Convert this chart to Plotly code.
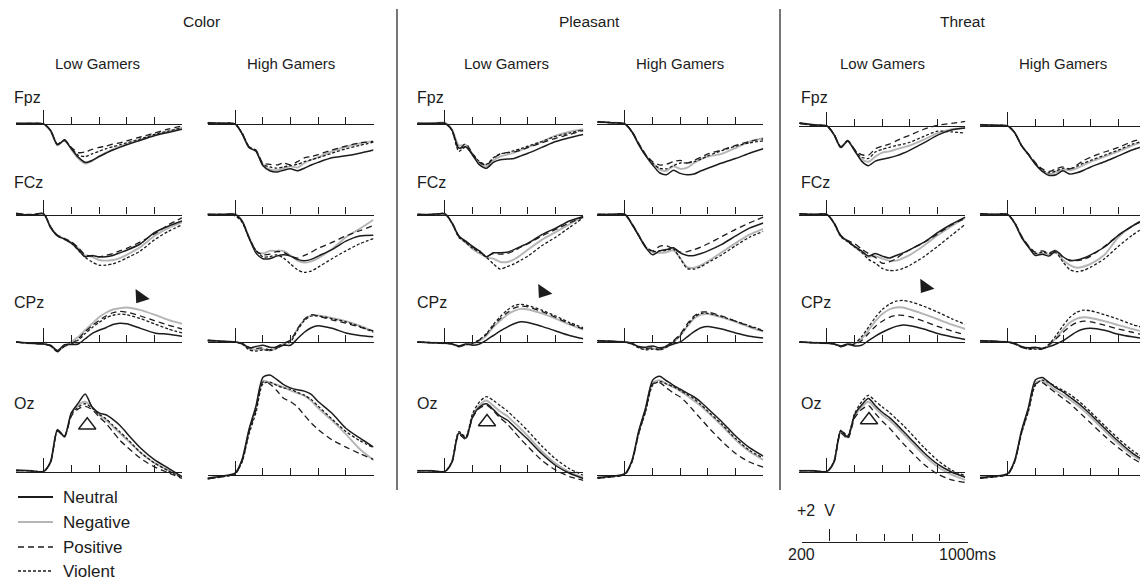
import plotly.graph_objects as go

# Time base of every waveform (ms relative to picture onset)
TIMES = [-200, -100, 0, 50, 100, 150, 200, 250, 300, 350, 400, 450, 500, 550, 600, 700, 800, 900, 1000]

# ---------------- Color ----------------
COLOR_LOW_FPZ_NEU = [0.1, 0.1, 0.0, -1.0, -3.2, -2.5, -3.8, -5.1, -5.9, -5.6, -5.0, -4.5, -4.0, -3.6, -3.2, -2.5, -1.8, -1.3, -0.8]
COLOR_LOW_FPZ_NEG = [0.1, 0.0, 0.0, -1.1, -3.3, -2.5, -3.9, -5.3, -6.1, -5.7, -5.0, -4.4, -3.9, -3.5, -3.1, -2.4, -1.7, -1.1, -0.6]
COLOR_LOW_FPZ_POS = [0.0, 0.1, 0.0, -1.0, -3.1, -2.4, -3.6, -4.4, -4.3, -3.9, -3.6, -3.4, -3.1, -2.9, -2.6, -2.0, -1.4, -0.8, -0.3]
COLOR_LOW_FPZ_VIO = [0.0, 0.0, 0.0, -1.0, -3.2, -2.5, -3.7, -4.8, -5.0, -4.6, -4.2, -3.8, -3.5, -3.2, -2.9, -2.3, -1.6, -1.1, -0.6]

COLOR_HIGH_FPZ_NEU = [0.2, 0.1, 0.0, -1.5, -3.6, -4.2, -6.4, -7.2, -7.4, -7.1, -6.9, -7.2, -6.8, -6.3, -5.9, -5.2, -4.9, -4.5, -4.0]
COLOR_HIGH_FPZ_NEG = [0.2, 0.1, 0.0, -1.5, -3.6, -4.1, -6.2, -7.0, -7.1, -6.8, -6.5, -6.7, -6.0, -5.5, -5.1, -4.2, -3.5, -3.0, -2.6]
COLOR_HIGH_FPZ_POS = [0.1, 0.1, 0.0, -1.4, -3.5, -4.0, -6.0, -6.2, -6.3, -6.0, -6.3, -5.8, -5.2, -5.0, -4.7, -4.0, -3.4, -2.9, -2.7]
COLOR_HIGH_FPZ_VIO = [0.1, 0.1, 0.0, -1.4, -3.5, -4.1, -6.2, -6.6, -6.8, -6.6, -6.4, -6.2, -5.8, -5.5, -5.2, -4.5, -3.8, -3.3, -2.8]

COLOR_LOW_FCZ_NEU = [0.2, -0.1, 0.1, -2.0, -3.3, -3.8, -4.4, -5.4, -6.5, -6.3, -6.5, -6.5, -6.3, -5.9, -5.5, -4.5, -2.8, -1.8, -1.0]
COLOR_LOW_FCZ_NEG = [0.1, -0.1, 0.1, -1.9, -3.2, -3.7, -4.3, -5.2, -6.3, -6.5, -7.0, -7.1, -7.0, -6.7, -6.2, -5.0, -3.3, -2.1, -1.2]
COLOR_LOW_FCZ_POS = [0.1, 0.0, 0.1, -1.9, -3.2, -3.7, -4.2, -5.1, -6.2, -6.4, -6.5, -6.3, -6.0, -5.6, -5.2, -4.2, -3.0, -1.6, -0.5]
COLOR_LOW_FCZ_VIO = [0.1, -0.1, 0.1, -2.0, -3.3, -3.8, -4.4, -5.5, -6.6, -7.3, -7.8, -7.8, -7.6, -7.2, -6.7, -5.6, -3.9, -2.6, -1.6]

COLOR_HIGH_FCZ_NEU = [0.0, 0.0, 0.0, -1.0, -3.6, -5.9, -6.8, -6.8, -6.4, -6.2, -6.4, -6.9, -7.1, -6.9, -6.4, -5.4, -4.1, -3.3, -3.2]
COLOR_HIGH_FCZ_NEG = [0.0, 0.0, 0.1, -1.0, -3.5, -5.6, -6.0, -5.6, -5.6, -5.6, -6.3, -7.1, -7.4, -7.2, -6.7, -5.3, -3.5, -2.2, -0.8]
COLOR_HIGH_FCZ_POS = [0.0, 0.0, 0.0, -1.0, -3.5, -5.6, -6.2, -6.1, -5.7, -5.8, -6.4, -6.7, -6.3, -5.8, -5.2, -4.3, -3.3, -2.5, -1.7]
COLOR_HIGH_FCZ_VIO = [0.0, 0.0, -0.2, -1.2, -3.6, -5.5, -6.5, -6.5, -6.2, -6.7, -7.6, -8.5, -8.9, -8.7, -8.1, -6.8, -5.6, -4.5, -3.7]

COLOR_LOW_CPZ_NEU = [0.0, -0.2, -0.3, -0.5, -1.3, -0.4, -0.4, -0.3, 0.5, 1.3, 1.8, 2.2, 2.7, 2.9, 2.8, 2.1, 1.4, 1.2, 0.9]
COLOR_LOW_CPZ_NEG = [0.0, -0.2, -0.3, -0.6, -1.4, -0.6, 0.0, 0.8, 1.8, 2.8, 3.8, 4.5, 5.0, 5.2, 5.3, 4.9, 4.2, 3.4, 2.8]
COLOR_LOW_CPZ_POS = [0.0, -0.2, -0.3, -0.6, -1.5, -0.7, -0.3, 0.5, 1.6, 2.5, 3.3, 4.0, 4.5, 4.7, 4.6, 4.0, 3.3, 2.6, 2.0]
COLOR_LOW_CPZ_VIO = [0.0, -0.2, -0.3, -0.6, -1.4, -0.6, -0.2, 0.3, 1.3, 2.2, 3.0, 3.7, 4.1, 4.3, 4.2, 3.6, 2.8, 2.0, 1.4]

COLOR_HIGH_CPZ_NEU = [0.3, 0.1, 0.0, -0.2, -0.9, -0.7, -0.5, -0.8, -0.8, -0.5, -0.5, 0.5, 1.5, 2.2, 2.5, 2.1, 1.4, 1.0, 0.8]
COLOR_HIGH_CPZ_NEG = [0.2, 0.1, 0.0, -0.3, -1.0, -1.2, -1.1, -1.3, -1.0, -0.2, 0.2, 2.0, 3.4, 4.1, 4.1, 3.7, 3.2, 2.5, 1.6]
COLOR_HIGH_CPZ_POS = [0.2, 0.1, 0.0, -0.3, -0.8, -1.0, -0.9, -1.2, -0.7, -0.2, 0.3, 2.0, 3.5, 4.2, 4.0, 3.4, 2.9, 2.3, 1.7]
COLOR_HIGH_CPZ_VIO = [0.2, 0.1, 0.0, -0.3, -1.2, -1.4, -1.2, -1.3, -1.0, -0.4, 0.0, 1.8, 3.3, 4.0, 4.0, 3.6, 3.1, 2.4, 1.5]

COLOR_LOW_OZ_NEU = [0.3, 0.2, 0.1, 1.6, 6.5, 5.5, 9.1, 10.6, 12.0, 10.0, 9.1, 8.8, 8.1, 7.2, 6.0, 3.7, 1.9, 0.6, -0.7]
COLOR_LOW_OZ_NEG = [0.2, 0.2, 0.1, 1.5, 6.5, 5.4, 9.0, 10.3, 10.8, 10.0, 8.8, 8.0, 7.0, 6.0, 5.0, 3.0, 1.4, 0.3, -0.8]
COLOR_LOW_OZ_POS = [0.2, 0.2, 0.1, 1.5, 6.3, 5.4, 8.6, 9.7, 10.1, 9.6, 8.5, 7.5, 6.2, 4.9, 3.9, 2.1, 0.8, -0.1, -1.0]
COLOR_LOW_OZ_VIO = [0.2, 0.2, 0.1, 1.5, 6.4, 5.5, 8.8, 10.0, 10.5, 9.8, 8.9, 8.2, 7.2, 6.2, 5.2, 3.0, 1.4, 0.2, -0.9]

COLOR_HIGH_OZ_NEU = [-0.5, -0.2, 0.3, 2.4, 7.0, 10.6, 15.0, 15.4, 14.7, 13.9, 13.4, 13.1, 12.9, 12.4, 11.3, 9.5, 7.2, 5.7, 4.3]
COLOR_HIGH_OZ_NEG = [-0.5, -0.2, 0.3, 2.3, 6.8, 10.3, 14.5, 14.2, 13.9, 13.5, 13.0, 12.6, 12.2, 11.4, 10.3, 8.4, 6.3, 4.0, 2.3]
COLOR_HIGH_OZ_POS = [-0.6, -0.3, 0.2, 2.1, 6.6, 10.0, 14.3, 14.0, 13.0, 11.8, 11.3, 10.5, 9.2, 8.0, 7.0, 5.4, 4.3, 3.3, 2.4]
COLOR_HIGH_OZ_VIO = [-0.6, -0.3, 0.2, 2.0, 6.3, 9.6, 14.0, 14.3, 13.8, 13.4, 13.2, 12.7, 12.3, 11.6, 10.6, 8.6, 6.7, 5.3, 4.2]

# ---------------- Pleasant ----------------
PLEAS_LOW_FPZ_NEU = [0.1, 0.1, 0.1, -0.9, -3.7, -3.5, -4.8, -6.3, -6.8, -5.9, -5.5, -5.4, -5.3, -4.9, -4.5, -3.6, -2.7, -2.1, -1.6]
PLEAS_LOW_FPZ_NEG = [0.0, 0.1, 0.2, -0.8, -3.3, -3.2, -4.7, -6.1, -6.5, -5.6, -5.0, -4.7, -4.4, -4.0, -3.6, -2.7, -1.8, -1.2, -0.8]
PLEAS_LOW_FPZ_POS = [0.1, 0.0, 0.1, -0.9, -3.9, -3.0, -4.6, -5.9, -6.3, -5.3, -4.6, -4.4, -4.3, -4.0, -3.6, -2.9, -2.2, -1.6, -1.0]
PLEAS_LOW_FPZ_VIO = [0.1, 0.0, 0.1, -1.0, -4.2, -3.5, -4.6, -5.8, -6.2, -5.2, -4.6, -4.4, -4.1, -3.8, -3.4, -2.7, -1.9, -1.4, -0.9]

PLEAS_HIGH_FPZ_NEU = [0.35, 0.2, 0.0, -1.2, -3.2, -4.9, -6.3, -7.5, -7.8, -7.1, -7.6, -7.8, -7.7, -7.2, -6.8, -6.0, -5.3, -4.5, -3.8]
PLEAS_HIGH_FPZ_NEG = [0.3, 0.2, 0.0, -1.2, -3.1, -4.8, -6.0, -7.0, -7.2, -6.5, -6.9, -6.7, -6.0, -5.4, -5.0, -4.6, -3.7, -2.7, -2.2]
PLEAS_HIGH_FPZ_POS = [0.3, 0.2, 0.0, -1.1, -3.0, -4.7, -5.8, -6.3, -6.2, -5.8, -5.6, -6.0, -5.6, -5.1, -4.6, -4.0, -3.3, -2.7, -2.3]
PLEAS_HIGH_FPZ_VIO = [0.3, 0.2, 0.0, -1.2, -3.1, -4.8, -6.0, -6.8, -6.9, -6.4, -6.0, -6.0, -5.8, -5.4, -4.9, -4.1, -3.4, -2.9, -2.6]

PLEAS_LOW_FCZ_NEU = [0.0, 0.0, 0.1, -1.3, -3.3, -4.1, -4.9, -5.6, -6.5, -5.9, -5.9, -5.8, -5.4, -4.9, -4.4, -3.1, -2.1, -1.0, -0.3]
PLEAS_LOW_FCZ_NEG = [0.0, -0.1, 0.1, -1.2, -3.4, -4.3, -5.3, -6.0, -6.6, -6.8, -7.3, -7.3, -6.9, -6.2, -5.4, -3.9, -2.7, -1.5, -0.3]
PLEAS_LOW_FCZ_POS = [0.0, 0.0, 0.1, -1.2, -3.3, -4.2, -5.0, -5.7, -6.4, -6.0, -6.1, -6.0, -5.6, -5.0, -4.5, -3.3, -2.3, -1.3, -0.4]
PLEAS_LOW_FCZ_VIO = [0.0, 0.0, 0.1, -1.3, -3.5, -4.3, -5.2, -5.8, -6.6, -7.6, -8.4, -8.0, -7.6, -7.0, -6.4, -4.8, -3.5, -2.0, -0.5]

PLEAS_HIGH_FCZ_NEU = [0.0, 0.0, 0.0, -1.5, -3.3, -5.1, -6.2, -5.6, -5.4, -5.1, -5.9, -6.3, -6.3, -6.0, -5.6, -4.6, -3.3, -2.1, -1.3]
PLEAS_HIGH_FCZ_NEG = [0.0, 0.0, 0.0, -1.4, -3.2, -5.0, -5.8, -5.9, -5.8, -5.5, -6.7, -8.1, -8.2, -7.8, -7.2, -5.8, -4.4, -3.1, -2.2]
PLEAS_HIGH_FCZ_POS = [0.0, 0.0, 0.0, -1.4, -3.2, -4.9, -5.6, -4.9, -4.8, -5.3, -5.8, -5.7, -5.4, -5.0, -4.5, -3.4, -2.3, -1.3, -0.4]
PLEAS_HIGH_FCZ_VIO = [0.0, 0.0, 0.0, -1.5, -3.3, -5.0, -5.7, -5.6, -5.5, -5.3, -6.8, -8.3, -8.4, -8.0, -7.4, -6.2, -4.8, -3.5, -2.6]

PLEAS_LOW_CPZ_NEU = [0.0, -0.1, -0.2, -0.3, -0.6, -0.3, -0.5, -0.3, 0.3, 1.0, 1.7, 2.3, 2.8, 3.1, 3.0, 2.4, 1.7, 1.0, 0.5]
PLEAS_LOW_CPZ_NEG = [0.0, -0.1, -0.2, -0.3, -0.7, -0.4, -0.3, 0.2, 1.0, 2.3, 3.3, 4.2, 4.8, 5.1, 5.0, 4.4, 3.6, 2.7, 1.9]
PLEAS_LOW_CPZ_POS = [0.0, -0.1, -0.2, -0.3, -0.7, -0.4, -0.3, 0.3, 1.2, 2.5, 3.6, 4.5, 5.2, 5.5, 5.4, 4.7, 3.8, 2.8, 2.0]
PLEAS_LOW_CPZ_VIO = [0.0, -0.1, -0.2, -0.3, -0.7, -0.4, -0.2, 0.4, 1.3, 2.7, 3.9, 4.9, 5.6, 5.8, 5.6, 4.9, 4.0, 3.0, 2.2]

PLEAS_HIGH_CPZ_NEU = [0.2, 0.1, 0.0, -0.2, -0.7, -0.8, -0.6, -0.9, -0.7, -0.3, 0.0, 0.8, 1.6, 2.2, 2.4, 2.0, 1.4, 0.9, 0.6]
PLEAS_HIGH_CPZ_NEG = [0.2, 0.1, 0.0, -0.3, -0.8, -1.1, -1.0, -1.2, -0.8, 0.0, 1.0, 2.4, 3.6, 4.2, 4.3, 3.8, 3.1, 2.3, 1.6]
PLEAS_HIGH_CPZ_POS = [0.2, 0.1, 0.0, -0.3, -0.8, -1.0, -0.9, -1.1, -0.6, 0.2, 1.2, 2.8, 4.0, 4.6, 4.6, 4.0, 3.2, 2.4, 1.7]
PLEAS_HIGH_CPZ_VIO = [0.2, 0.1, 0.0, -0.3, -0.9, -1.2, -1.1, -1.2, -0.8, 0.0, 1.0, 2.5, 3.8, 4.4, 4.4, 3.9, 3.2, 2.5, 1.8]

PLEAS_LOW_OZ_NEU = [0.2, 0.2, 0.1, 1.5, 6.0, 5.2, 8.5, 10.0, 10.5, 9.6, 8.6, 8.0, 7.0, 6.0, 5.0, 2.8, 1.0, -0.2, -1.0]
PLEAS_LOW_OZ_NEG = [0.2, 0.2, 0.1, 1.5, 6.0, 5.2, 8.7, 10.3, 11.0, 10.2, 9.3, 8.6, 7.6, 6.6, 5.5, 3.2, 1.3, 0.0, -0.8]
PLEAS_LOW_OZ_POS = [0.2, 0.2, 0.1, 1.4, 5.8, 5.0, 8.4, 9.8, 10.3, 9.4, 8.3, 7.4, 6.2, 5.0, 3.9, 1.8, 0.3, -0.7, -1.3]
PLEAS_LOW_OZ_VIO = [0.2, 0.2, 0.1, 1.6, 6.2, 5.4, 9.0, 10.8, 11.6, 11.0, 10.2, 9.4, 8.4, 7.4, 6.3, 4.0, 2.0, 0.5, -0.5]

PLEAS_HIGH_OZ_NEU = [-0.4, -0.2, 0.2, 2.2, 6.8, 10.4, 14.6, 15.2, 14.5, 13.8, 13.2, 12.6, 12.0, 11.2, 10.2, 8.2, 6.0, 4.2, 2.9]
PLEAS_HIGH_OZ_NEG = [-0.4, -0.2, 0.2, 2.1, 6.6, 10.2, 14.2, 14.6, 14.0, 13.5, 12.9, 12.2, 11.4, 10.6, 9.6, 7.6, 5.4, 3.6, 2.3]
PLEAS_HIGH_OZ_POS = [-0.5, -0.3, 0.1, 2.0, 6.5, 10.0, 14.0, 14.2, 13.4, 12.6, 12.0, 11.0, 9.8, 8.6, 7.4, 5.2, 3.3, 2.0, 1.2]
PLEAS_HIGH_OZ_VIO = [-0.5, -0.3, 0.1, 2.0, 6.4, 9.8, 13.8, 14.4, 14.0, 13.6, 13.0, 12.4, 11.7, 10.8, 9.8, 7.8, 5.6, 3.8, 2.6]

# ---------------- Threat ----------------
THREAT_LOW_FPZ_NEU = [0.5, 0.2, 0.0, -1.3, -3.3, -2.3, -3.8, -5.4, -6.1, -5.4, -5.1, -4.9, -4.6, -4.2, -3.7, -2.6, -1.4, -0.6, -0.3]
THREAT_LOW_FPZ_NEG = [0.4, 0.2, 0.0, -1.3, -3.2, -2.3, -3.8, -5.1, -5.5, -4.7, -4.1, -3.9, -3.6, -3.3, -3.0, -2.1, -1.1, -0.5, -0.3]
THREAT_LOW_FPZ_POS = [0.4, 0.1, 0.0, -1.2, -3.2, -2.2, -3.6, -4.4, -4.5, -3.5, -3.1, -2.8, -2.3, -1.8, -1.4, -0.5, 0.1, 0.4, 0.7]
THREAT_LOW_FPZ_VIO = [0.4, 0.1, 0.0, -1.3, -3.3, -2.3, -3.7, -4.8, -5.0, -4.0, -3.6, -3.3, -3.0, -2.8, -2.5, -1.6, -0.8, -0.9, -1.1]

THREAT_HIGH_FPZ_NEU = [0.2, 0.1, 0.0, -1.0, -3.0, -4.4, -5.9, -7.0, -7.6, -7.5, -6.9, -7.4, -7.2, -6.8, -6.3, -5.5, -4.6, -3.7, -3.0]
THREAT_HIGH_FPZ_NEG = [0.2, 0.1, 0.0, -1.0, -3.0, -4.4, -5.8, -6.9, -7.4, -7.1, -6.7, -6.8, -6.5, -6.0, -5.5, -4.7, -3.9, -3.0, -2.3]
THREAT_HIGH_FPZ_POS = [0.2, 0.1, 0.0, -1.0, -3.0, -4.3, -5.6, -6.6, -7.0, -6.6, -6.3, -6.6, -6.0, -5.3, -4.8, -4.0, -3.3, -2.4, -1.8]
THREAT_HIGH_FPZ_VIO = [0.2, 0.1, 0.0, -1.0, -3.0, -4.4, -5.7, -6.8, -7.2, -6.9, -6.5, -6.6, -6.2, -5.7, -5.3, -4.5, -3.7, -2.8, -2.2]

THREAT_LOW_FCZ_NEU = [0.1, 0.0, 0.0, -1.3, -3.3, -4.1, -4.9, -5.6, -6.4, -6.0, -6.4, -6.7, -6.3, -5.9, -5.4, -4.3, -2.8, -1.5, -0.4]
THREAT_LOW_FCZ_NEG = [0.1, 0.0, 0.0, -1.3, -3.3, -4.1, -5.0, -5.8, -6.5, -6.4, -6.8, -7.1, -7.1, -6.7, -6.2, -4.8, -3.2, -1.8, -0.5]
THREAT_LOW_FCZ_POS = [0.1, 0.0, 0.0, -1.2, -3.2, -4.0, -4.5, -5.3, -6.0, -6.6, -7.5, -7.3, -6.8, -6.0, -5.4, -4.3, -3.0, -1.6, -0.6]
THREAT_LOW_FCZ_VIO = [0.1, 0.0, 0.0, -1.3, -3.4, -4.2, -5.0, -5.8, -6.9, -7.5, -8.3, -8.6, -8.6, -8.3, -7.8, -6.5, -4.9, -3.2, -1.5]

THREAT_HIGH_FCZ_NEU = [0.1, 0.0, 0.0, -1.3, -3.5, -5.0, -6.3, -6.1, -6.4, -5.6, -6.5, -7.1, -7.0, -6.7, -6.2, -5.0, -3.2, -1.8, -0.6]
THREAT_HIGH_FCZ_NEG = [0.1, 0.0, 0.0, -1.3, -3.4, -4.9, -6.0, -6.0, -6.2, -5.8, -7.0, -7.8, -8.2, -8.0, -7.6, -6.2, -3.5, -1.8, -0.6]
THREAT_HIGH_FCZ_POS = [0.1, 0.0, 0.0, -1.2, -3.3, -4.8, -5.8, -5.6, -5.9, -5.5, -6.6, -7.0, -7.1, -6.9, -6.4, -4.9, -3.2, -1.8, -0.8]
THREAT_HIGH_FCZ_VIO = [0.1, 0.0, 0.0, -1.3, -3.4, -4.9, -6.0, -5.8, -6.0, -5.9, -7.3, -8.5, -8.8, -8.6, -8.1, -6.8, -4.9, -3.2, -1.8]

THREAT_LOW_CPZ_NEU = [0.0, -0.1, -0.2, -0.3, -0.6, -0.3, -0.6, -0.5, 0.2, 0.9, 1.5, 2.0, 2.4, 2.6, 2.5, 2.0, 1.3, 0.8, 0.4]
THREAT_LOW_CPZ_NEG = [0.0, -0.1, -0.2, -0.3, -0.7, -0.4, -0.3, 0.5, 1.8, 3.2, 4.3, 5.0, 5.3, 5.3, 5.0, 4.3, 3.5, 2.7, 2.0]
THREAT_LOW_CPZ_POS = [0.0, -0.1, -0.2, -0.3, -0.7, -0.4, -0.4, 0.2, 1.3, 2.4, 3.2, 3.8, 4.1, 4.1, 3.9, 3.2, 2.4, 1.7, 1.1]
THREAT_LOW_CPZ_VIO = [0.0, -0.1, -0.2, -0.3, -0.7, -0.4, -0.2, 0.8, 2.3, 3.8, 5.0, 5.8, 6.3, 6.4, 6.2, 5.5, 4.6, 3.6, 2.7]

THREAT_HIGH_CPZ_NEU = [0.2, 0.1, 0.0, -0.2, -0.7, -0.9, -0.8, -1.0, -0.7, -0.3, 0.2, 0.9, 1.6, 2.0, 2.1, 1.8, 1.2, 0.8, 0.5]
THREAT_HIGH_CPZ_NEG = [0.2, 0.1, 0.0, -0.3, -0.8, -1.0, -1.0, -1.1, -0.5, 0.6, 1.9, 3.0, 3.6, 3.8, 3.7, 3.2, 2.6, 2.0, 1.5]
THREAT_HIGH_CPZ_POS = [0.2, 0.1, 0.0, -0.3, -0.8, -1.0, -0.9, -1.0, -0.4, 0.5, 1.5, 2.4, 3.0, 3.2, 3.1, 2.6, 2.0, 1.5, 1.0]
THREAT_HIGH_CPZ_VIO = [0.2, 0.1, 0.0, -0.3, -0.8, -1.1, -1.1, -1.1, -0.3, 1.0, 2.5, 3.8, 4.6, 4.9, 4.8, 4.2, 3.5, 2.7, 2.1]

THREAT_LOW_OZ_NEU = [0.2, 0.2, 0.1, 1.5, 6.3, 5.4, 8.8, 10.3, 11.3, 10.2, 9.2, 8.4, 7.4, 6.3, 5.2, 3.0, 1.2, 0.0, -0.8]
THREAT_LOW_OZ_NEG = [0.2, 0.2, 0.1, 1.5, 6.2, 5.3, 8.6, 10.0, 10.8, 9.8, 8.8, 8.0, 7.0, 5.9, 4.8, 2.6, 0.8, -0.4, -1.2]
THREAT_LOW_OZ_POS = [0.2, 0.2, 0.1, 1.4, 6.0, 5.1, 8.3, 9.6, 10.2, 9.0, 7.8, 6.8, 5.6, 4.4, 3.3, 1.2, -0.3, -1.2, -1.6]
THREAT_LOW_OZ_VIO = [0.2, 0.2, 0.1, 1.6, 6.4, 5.6, 9.0, 10.8, 11.8, 10.9, 10.0, 9.2, 8.2, 7.2, 6.1, 3.8, 1.8, 0.3, -0.6]

THREAT_HIGH_OZ_NEU = [-0.4, -0.2, 0.2, 2.2, 6.8, 10.4, 14.6, 15.0, 14.2, 13.4, 12.8, 12.0, 11.2, 10.3, 9.3, 7.2, 5.2, 3.4, 2.0]
THREAT_HIGH_OZ_NEG = [-0.4, -0.2, 0.2, 2.1, 6.6, 10.2, 14.2, 14.5, 13.8, 13.0, 12.3, 11.6, 10.8, 9.9, 8.9, 6.8, 4.8, 3.1, 1.8]
THREAT_HIGH_OZ_POS = [-0.5, -0.3, 0.1, 2.0, 6.5, 10.0, 14.0, 14.2, 13.4, 12.6, 11.8, 11.0, 10.0, 9.0, 8.0, 6.0, 4.2, 2.6, 1.4]
THREAT_HIGH_OZ_VIO = [-0.5, -0.3, 0.1, 2.0, 6.4, 9.8, 13.8, 14.6, 14.2, 13.6, 13.0, 12.4, 11.6, 10.7, 9.7, 7.6, 5.6, 3.8, 2.4]

CONDITIONS = ["Color", "Pleasant", "Threat"]
GROUPS = ["Low Gamers", "High Gamers"]
CHANNELS = ["Fpz", "FCz", "CPz", "Oz"]
SERIES = ["Neutral", "Negative", "Positive", "Violent"]

# Highlighted effects: filled arrow (CPz late positivity), open triangle (Oz)
ARROW_TIME = [700, 710, 710]
ARROW_UV = [6.9, 7.7, 8.5]
OPEN_TRI_TIME = [315, 304, 304]
OPEN_TRI_UV = [7.2, 7.7, 8.0]

WAVES = {
    ("Color", "Low Gamers", "Fpz"): [COLOR_LOW_FPZ_NEU, COLOR_LOW_FPZ_NEG, COLOR_LOW_FPZ_POS, COLOR_LOW_FPZ_VIO],
    ("Color", "High Gamers", "Fpz"): [COLOR_HIGH_FPZ_NEU, COLOR_HIGH_FPZ_NEG, COLOR_HIGH_FPZ_POS, COLOR_HIGH_FPZ_VIO],
    ("Color", "Low Gamers", "FCz"): [COLOR_LOW_FCZ_NEU, COLOR_LOW_FCZ_NEG, COLOR_LOW_FCZ_POS, COLOR_LOW_FCZ_VIO],
    ("Color", "High Gamers", "FCz"): [COLOR_HIGH_FCZ_NEU, COLOR_HIGH_FCZ_NEG, COLOR_HIGH_FCZ_POS, COLOR_HIGH_FCZ_VIO],
    ("Color", "Low Gamers", "CPz"): [COLOR_LOW_CPZ_NEU, COLOR_LOW_CPZ_NEG, COLOR_LOW_CPZ_POS, COLOR_LOW_CPZ_VIO],
    ("Color", "High Gamers", "CPz"): [COLOR_HIGH_CPZ_NEU, COLOR_HIGH_CPZ_NEG, COLOR_HIGH_CPZ_POS, COLOR_HIGH_CPZ_VIO],
    ("Color", "Low Gamers", "Oz"): [COLOR_LOW_OZ_NEU, COLOR_LOW_OZ_NEG, COLOR_LOW_OZ_POS, COLOR_LOW_OZ_VIO],
    ("Color", "High Gamers", "Oz"): [COLOR_HIGH_OZ_NEU, COLOR_HIGH_OZ_NEG, COLOR_HIGH_OZ_POS, COLOR_HIGH_OZ_VIO],
    ("Pleasant", "Low Gamers", "Fpz"): [PLEAS_LOW_FPZ_NEU, PLEAS_LOW_FPZ_NEG, PLEAS_LOW_FPZ_POS, PLEAS_LOW_FPZ_VIO],
    ("Pleasant", "High Gamers", "Fpz"): [PLEAS_HIGH_FPZ_NEU, PLEAS_HIGH_FPZ_NEG, PLEAS_HIGH_FPZ_POS, PLEAS_HIGH_FPZ_VIO],
    ("Pleasant", "Low Gamers", "FCz"): [PLEAS_LOW_FCZ_NEU, PLEAS_LOW_FCZ_NEG, PLEAS_LOW_FCZ_POS, PLEAS_LOW_FCZ_VIO],
    ("Pleasant", "High Gamers", "FCz"): [PLEAS_HIGH_FCZ_NEU, PLEAS_HIGH_FCZ_NEG, PLEAS_HIGH_FCZ_POS, PLEAS_HIGH_FCZ_VIO],
    ("Pleasant", "Low Gamers", "CPz"): [PLEAS_LOW_CPZ_NEU, PLEAS_LOW_CPZ_NEG, PLEAS_LOW_CPZ_POS, PLEAS_LOW_CPZ_VIO],
    ("Pleasant", "High Gamers", "CPz"): [PLEAS_HIGH_CPZ_NEU, PLEAS_HIGH_CPZ_NEG, PLEAS_HIGH_CPZ_POS, PLEAS_HIGH_CPZ_VIO],
    ("Pleasant", "Low Gamers", "Oz"): [PLEAS_LOW_OZ_NEU, PLEAS_LOW_OZ_NEG, PLEAS_LOW_OZ_POS, PLEAS_LOW_OZ_VIO],
    ("Pleasant", "High Gamers", "Oz"): [PLEAS_HIGH_OZ_NEU, PLEAS_HIGH_OZ_NEG, PLEAS_HIGH_OZ_POS, PLEAS_HIGH_OZ_VIO],
    ("Threat", "Low Gamers", "Fpz"): [THREAT_LOW_FPZ_NEU, THREAT_LOW_FPZ_NEG, THREAT_LOW_FPZ_POS, THREAT_LOW_FPZ_VIO],
    ("Threat", "High Gamers", "Fpz"): [THREAT_HIGH_FPZ_NEU, THREAT_HIGH_FPZ_NEG, THREAT_HIGH_FPZ_POS, THREAT_HIGH_FPZ_VIO],
    ("Threat", "Low Gamers", "FCz"): [THREAT_LOW_FCZ_NEU, THREAT_LOW_FCZ_NEG, THREAT_LOW_FCZ_POS, THREAT_LOW_FCZ_VIO],
    ("Threat", "High Gamers", "FCz"): [THREAT_HIGH_FCZ_NEU, THREAT_HIGH_FCZ_NEG, THREAT_HIGH_FCZ_POS, THREAT_HIGH_FCZ_VIO],
    ("Threat", "Low Gamers", "CPz"): [THREAT_LOW_CPZ_NEU, THREAT_LOW_CPZ_NEG, THREAT_LOW_CPZ_POS, THREAT_LOW_CPZ_VIO],
    ("Threat", "High Gamers", "CPz"): [THREAT_HIGH_CPZ_NEU, THREAT_HIGH_CPZ_NEG, THREAT_HIGH_CPZ_POS, THREAT_HIGH_CPZ_VIO],
    ("Threat", "Low Gamers", "Oz"): [THREAT_LOW_OZ_NEU, THREAT_LOW_OZ_NEG, THREAT_LOW_OZ_POS, THREAT_LOW_OZ_VIO],
    ("Threat", "High Gamers", "Oz"): [THREAT_HIGH_OZ_NEU, THREAT_HIGH_OZ_NEG, THREAT_HIGH_OZ_POS, THREAT_HIGH_OZ_VIO],
}

# ---------------- geometry (pixels) ----------------
W, H = 1140, 581
PANEL_LEFT = {
    ("Color", "Low Gamers"): 16.0, ("Color", "High Gamers"): 207.5,
    ("Pleasant", "Low Gamers"): 417.3, ("Pleasant", "High Gamers"): 597.3,
    ("Threat", "Low Gamers"): 799.3, ("Threat", "High Gamers"): 980.0,
}
PANEL_W = 166.0
T0, T1 = -200.0, 1000.0
BASELINE = {"Fpz": 124.0, "FCz": 214.5, "CPz": 342.0, "Oz": 472.0}
THREAT_FPZ_BASELINE = 126.0
OZ_HIGH_BASELINE = 475.0
PX_PER_UV = 6.5
ABOVE_PX, BELOW_PX = 118.0, 66.0

FONT = "Liberation Sans, Arial, Helvetica, sans-serif"
INK = "#1c1c1c"
STYLE = {
    "Neutral": dict(color=INK, width=1.5, dash="solid"),
    "Negative": dict(color="#b5b5b5", width=1.9, dash="solid"),
    "Positive": dict(color=INK, width=1.3, dash="6px,4px"),
    "Violent": dict(color=INK, width=1.3, dash="3px,2px"),
}
DRAW_ORDER = ["Negative", "Neutral", "Positive", "Violent"]


def px_x(px):
    return px / W


def px_y(py):
    return 1.0 - py / H


fig = go.Figure()
layout = {}
k = 0


def axis_pair(k):
    return ("xaxis" if k == 1 else f"xaxis{k}", "yaxis" if k == 1 else f"yaxis{k}",
            "x" if k == 1 else f"x{k}", "y" if k == 1 else f"y{k}")


def time_axis(x_left, base_px, tall=14, short=7):
    """A baseline with upward ticks every 200 ms, the 0 ms tick longer."""
    x_right = x_left + PANEL_W
    t_max = T1
    if x_right > W:
        t_max = T0 + (W - x_left) / PANEL_W * (T1 - T0)
        x_right = W
    return dict(
        domain=[px_x(x_left), px_x(x_right)], range=[T0, t_max],
        anchor="free", position=px_y(base_px),
        showline=True, linecolor=INK, linewidth=1.2, mirror=False,
        showgrid=False, zeroline=False, showticklabels=False,
        ticks="inside", tickmode="array", tickvals=[0], ticklen=tall,
        tickwidth=1.2, tickcolor=INK,
        minor=dict(ticks="inside", tickmode="array",
                   tickvals=[-200, 200, 400, 600, 800, 1000],
                   ticklen=short, tickwidth=1.2, tickcolor=INK),
        fixedrange=True,
    )


for ci, cond in enumerate(CONDITIONS):
    for group in GROUPS:
        x_left = PANEL_LEFT[(cond, group)]
        for ch in CHANNELS:
            base = BASELINE[ch]
            if ch == "Oz" and group == "High Gamers":
                base = OZ_HIGH_BASELINE
            if ch == "Fpz" and cond == "Threat":
                base = THREAT_FPZ_BASELINE
            k += 1
            xa, ya, xr, yr = axis_pair(k)
            layout[xa] = time_axis(x_left, base)
            top = max(base - ABOVE_PX, 0)
            bot = min(base + BELOW_PX, H)
            layout[ya] = dict(
                domain=[px_y(bot), px_y(top)],
                range=[-(bot - base) / PX_PER_UV, (base - top) / PX_PER_UV],
                visible=False, fixedrange=True,
            )
            waves = dict(zip(SERIES, WAVES[(cond, group, ch)]))
            for name in DRAW_ORDER:
                fig.add_trace(go.Scatter(
                    x=TIMES, y=waves[name], mode="lines", name=name,
                    line=dict(shape="spline", smoothing=0.7, **STYLE[name]),
                    xaxis=xr, yaxis=yr, showlegend=False, hoverinfo="skip",
                ))
            if group == "Low Gamers" and ch == "CPz":
                fig.add_trace(go.Scatter(
                    x=[ARROW_TIME[ci]], y=[ARROW_UV[ci]], mode="markers",
                    marker=dict(symbol="triangle-down", size=15, color=INK, angle=35,
                                line=dict(width=0)),
                    xaxis=xr, yaxis=yr, showlegend=False, hoverinfo="skip"))
            if group == "Low Gamers" and ch == "Oz":
                fig.add_trace(go.Scatter(
                    x=[OPEN_TRI_TIME[ci]], y=[OPEN_TRI_UV[ci]], mode="markers",
                    marker=dict(symbol="triangle-up-open", size=15, color=INK,
                                line=dict(width=1.4, color=INK)),
                    xaxis=xr, yaxis=yr, showlegend=False, hoverinfo="skip"))

# scale bar axis (-200 .. 1000 ms)
k += 1
xa, ya, xr, yr = axis_pair(k)
layout[xa] = time_axis(801.5, 541.5, tall=12, short=7)
layout[ya] = dict(domain=[px_y(560), px_y(520)], range=[-1, 1], visible=False)
fig.add_trace(go.Scatter(x=[T0, T1], y=[None, None], mode="lines", xaxis=xr, yaxis=yr,
                         showlegend=False, hoverinfo="skip"))

annotations = []


def label(text, x, y, size=14, xanchor="center"):
    annotations.append(dict(text=text, x=px_x(x), y=px_y(y), xref="paper", yref="paper",
                            xanchor=xanchor, yanchor="middle", showarrow=False,
                            font=dict(family=FONT, size=size, color=INK)))


COND_CENTER = {"Color": 201, "Pleasant": 589, "Threat": 962}
for cond in CONDITIONS:
    label(cond, COND_CENTER[cond], 22, size=15.5)
GROUP_CENTER = {("Color", "Low Gamers"): 97, ("Color", "High Gamers"): 291,
                ("Pleasant", "Low Gamers"): 506, ("Pleasant", "High Gamers"): 680,
                ("Threat", "Low Gamers"): 882, ("Threat", "High Gamers"): 1063}
for key, cx in GROUP_CENTER.items():
    label(key[1], cx, 64, size=15)
CH_LABEL_Y = {"Fpz": 97, "FCz": 182, "CPz": 303, "Oz": 403}
CH_LABEL_X = {"Color": 12, "Pleasant": 415, "Threat": 799}
for cond in CONDITIONS:
    for ch in CHANNELS:
        label(ch, CH_LABEL_X[cond], CH_LABEL_Y[ch], size=16, xanchor="left")

# scale bar text
label("+2  V", 795, 511, size=16, xanchor="left")
label("200", 801, 554, size=16)
label("1000ms", 937, 554, size=16, xanchor="left")

# legend
LEGEND_Y = {"Neutral": 497, "Negative": 522, "Positive": 547, "Violent": 571}
shapes = []
for name in SERIES:
    st = STYLE[name]
    shapes.append(dict(type="line", xref="paper", yref="paper",
                       x0=px_x(18), x1=px_x(53), y0=px_y(LEGEND_Y[name]), y1=px_y(LEGEND_Y[name]),
                       line=dict(color=st["color"], width=st["width"] + 0.3, dash=st["dash"])))
    label(name, 61, LEGEND_Y[name], size=17, xanchor="left")

# separators between condition blocks
for sx in (397, 780):
    shapes.append(dict(type="line", xref="paper", yref="paper",
                       x0=px_x(sx), x1=px_x(sx), y0=px_y(9), y1=px_y(490),
                       line=dict(color=INK, width=1.2)))

fig.update_layout(
    width=W, height=H, margin=dict(l=0, r=0, t=0, b=0),
    paper_bgcolor="white", plot_bgcolor="rgba(0,0,0,0)",
    showlegend=False, annotations=annotations, shapes=shapes,
    **layout,
)

fig.write_html("out.html", config={"displayModeBar": False})
